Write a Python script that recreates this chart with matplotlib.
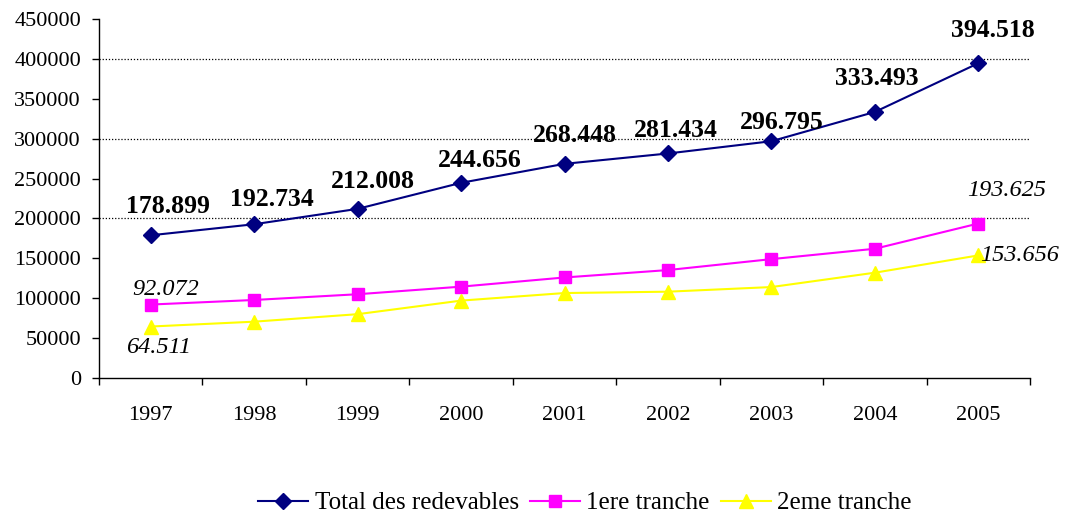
import matplotlib
matplotlib.use("Agg")
import matplotlib.pyplot as plt
import numpy as np

years = ["1997", "1998", "1999", "2000", "2001", "2002", "2003", "2004", "2005"]
total = [178899, 192734, 212008, 244656, 268448, 281434, 296795, 333493, 394518]
tranche1 = [92072, 97800, 105000, 114500, 126000, 135300, 149000, 162000, 193625]
tranche2 = [64511, 70600, 80000, 97000, 106500, 108200, 114000, 132000, 153656]
total_labels = ["178.899", "192.734", "212.008", "244.656", "268.448", "281.434", "296.795", "333.493", "394.518"]

# label offsets in pixels (dx, dy of text baseline centre relative to the point)
total_offsets = [(17, 22), (18, 18), (15, 21), (19, 16), (10, 22), (8, 16), (10, 12), (2, 27), (15, 26)]

plt.rcParams['font.family'] = ['Liberation Serif', 'DejaVu Serif']

fig = plt.figure(figsize=(10.75, 5.15), dpi=100)
ax = fig.add_axes([99/1075, 1 - 378/515, (1030-99)/1075, (378-19)/515])

x = np.arange(len(years))
ax.plot(x, total, color='#000080', marker='D', markersize=8, linewidth=1.5, label='Total des redevables', zorder=3)
ax.plot(x, tranche1, color='#FF00FF', marker='s', markersize=8.5, linewidth=1.5, label='1ere tranche', zorder=3)
ax.plot(x, tranche2, color='#FFFF00', marker='^', markersize=9.5, linewidth=1.5, label='2eme tranche', zorder=3)

for yv in [200000, 300000, 400000]:
    ax.axhline(yv, color='black', linestyle=(0, (1, 1.5)), linewidth=0.9, zorder=1)

for i, (v, lab) in enumerate(zip(total, total_labels)):
    dx, dy = total_offsets[i]
    ax.annotate(lab, (x[i], v), xytext=(dx, dy), textcoords='offset pixels',
                ha='center', va='baseline', fontsize=18.5, fontweight='bold')

ax.annotate("92.072", (x[0], tranche1[0]), xytext=(15, 10), textcoords='offset pixels',
            ha='center', va='baseline', fontsize=17.5, style='italic')
ax.annotate("193.625", (x[-1], tranche1[-1]), xytext=(28, 28), textcoords='offset pixels',
            ha='center', va='baseline', fontsize=17.5, style='italic')
ax.annotate("64.511", (x[0], tranche2[0]), xytext=(8, -26), textcoords='offset pixels',
            ha='center', va='baseline', fontsize=17.5, style='italic')
ax.annotate("153.656", (x[-1], tranche2[-1]), xytext=(41, -6), textcoords='offset pixels',
            ha='center', va='baseline', fontsize=17.5, style='italic')

ax.set_xlim(-0.5, len(years) - 0.5)
ax.set_ylim(0, 450000)
ax.set_yticks(np.arange(0, 450001, 50000))
ax.set_yticklabels([str(v) for v in range(0, 450001, 50000)], fontsize=16)
ax.set_xticks(x)
ax.set_xticklabels(years, fontsize=16)
ax.tick_params(axis='x', length=0, pad=20)
ax.set_xticks(np.arange(-0.5, len(years), 1), minor=True)
ax.tick_params(axis='x', which='minor', length=5, direction='out', width=1)
ax.tick_params(axis='y', length=5, direction='out', width=1, pad=8)

for s in ['top', 'right']:
    ax.spines[s].set_visible(False)
for s in ['left', 'bottom']:
    ax.spines[s].set_linewidth(1)

fig.legend(loc='center', bbox_to_anchor=(585/1075, 1 - 503/515), ncol=3, frameon=False,
           fontsize=18, handlelength=2.0, handletextpad=0.25, columnspacing=0.45)

fig.savefig("out.png", dpi=100)
